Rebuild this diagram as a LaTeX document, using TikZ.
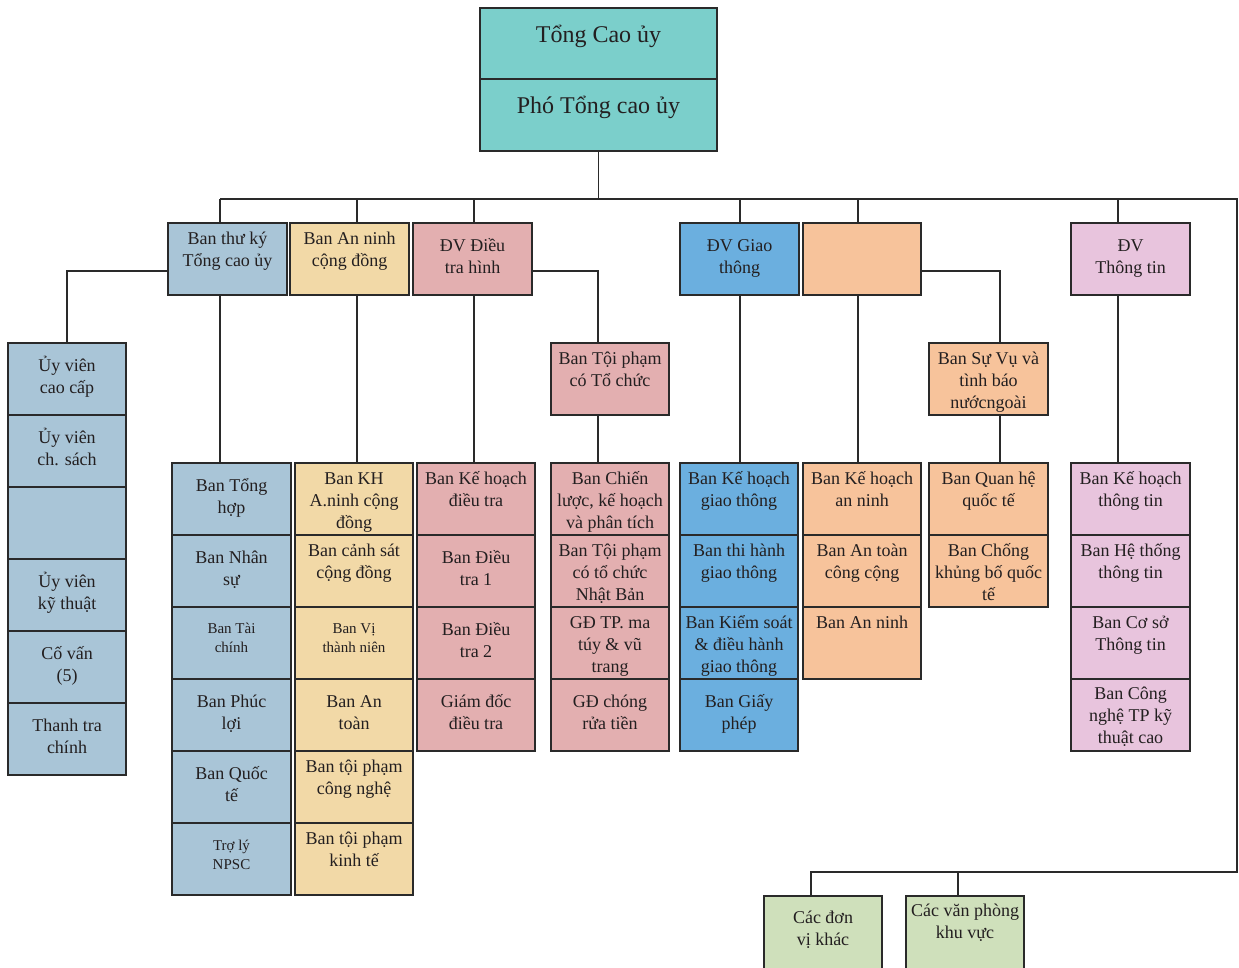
\documentclass[tikz,border=0pt]{standalone}
\usepackage{fontspec}
\setmainfont{Liberation Serif}
\usetikzlibrary{calc}

\definecolor{linec}{HTML}{2A2A2A}
\definecolor{txtc}{HTML}{231F20}
\definecolor{cteal}{HTML}{7BCFCB}
\definecolor{cgrey}{HTML}{A9C5D7}
\definecolor{ctan}{HTML}{F2D9A7}
\definecolor{cpink}{HTML}{E3AFB0}
\definecolor{cblue}{HTML}{6BAFDF}
\definecolor{corange}{HTML}{F7C39B}
\definecolor{clilac}{HTML}{E8C4DD}
\definecolor{cgreen}{HTML}{CFE0BB}

\tikzset{
  x=1pt, y=-1pt,
  box/.style={draw=linec, line width=1.8pt, rectangle, inner sep=0pt, outer sep=0pt},
  teal/.style={fill=cteal}, grey/.style={fill=cgrey}, tan/.style={fill=ctan},
  pink/.style={fill=cpink}, blue/.style={fill=cblue}, orange/.style={fill=corange},
  lilac/.style={fill=clilac}, green/.style={fill=cgreen},
  boxtext/.style={inner sep=0pt, text=txtc, font=\fontsize{18}{22}\selectfont},
  smalltext/.style={inner sep=0pt, text=txtc, font=\fontsize{15}{19}\selectfont},
  toptext/.style={inner sep=0pt, text=txtc, font=\fontsize{24}{28}\selectfont},
  conn/.style={draw=linec, line width=1.6pt},
}

% \orgbox[text style]{name}{fill}{x}{y}{width}{height}{first baseline}{lines}
\newcommand{\orgbox}[9][boxtext]{%
  \node[box,#3,minimum width=#6pt,minimum height=#7pt,anchor=north west] (#2) at (#4,#5) {};
  \node[#1,anchor=base] (#2-t) at ($(#2.north)+(0,#8)$)
    {\begin{tabular}[t]{@{}c@{}}#9\end{tabular}};}

\begin{document}
\begin{tikzpicture}
\useasboundingbox (0,0) rectangle (1239,967);

% head of the organisation
\orgbox[toptext]{tong}{teal}{480}{8}{237}{71}{34}{Tổng Cao ủy}
\orgbox[toptext]{pho}{teal}{480}{79}{237}{72}{34}{Phó Tổng cao ủy}

% second level
\orgbox{sec}{grey}{168}{223}{119}{72}{21}{Ban thư ký\\Tổng cao ủy}
\orgbox{anc}{tan}{290}{223}{119}{72}{21}{Ban An ninh\\cộng đồng}
\orgbox{dvdt}{pink}{413}{223}{119}{72}{28}{ĐV Điều\\tra hình}
\orgbox{dvgt}{blue}{680}{223}{119}{72}{28}{ĐV Giao\\thông}
\orgbox{dvan}{orange}{803}{223}{118}{72}{28}{}
\orgbox{dvtt}{lilac}{1071}{223}{119}{72}{28}{ĐV\\Thông tin}

% advisers column
\orgbox{u1}{grey}{8}{343}{118}{72}{28}{Ủy viên\\cao cấp}
\orgbox{u2}{grey}{8}{415}{118}{72}{28}{Ủy viên\\ch. sách}
\orgbox{u3}{grey}{8}{487}{118}{72}{28}{}
\orgbox{u4}{grey}{8}{559}{118}{72}{28}{Ủy viên\\kỹ thuật}
\orgbox{u5}{grey}{8}{631}{118}{72}{28}{Cố vấn\\(5)}
\orgbox{u6}{grey}{8}{703}{118}{72}{28}{Thanh tra\\chính}

% secretariat departments
\orgbox{a1}{grey}{172}{463}{119}{72}{28}{Ban Tổng\\hợp}
\orgbox{a2}{grey}{172}{535}{119}{72}{28}{Ban Nhân\\sự}
\orgbox[smalltext]{a3}{grey}{172}{607}{119}{72}{26}{Ban Tài\\chính}
\orgbox{a4}{grey}{172}{679}{119}{72}{28}{Ban Phúc\\lợi}
\orgbox{a5}{grey}{172}{751}{119}{72}{28}{Ban Quốc\\tế}
\orgbox[smalltext]{a6}{grey}{172}{823}{119}{72}{27}{Trợ lý\\NPSC}

% community security departments
\orgbox{b1}{tan}{295}{463}{118}{72}{21}{Ban KH\\A.ninh cộng\\đồng}
\orgbox{b2}{tan}{295}{535}{118}{72}{21}{Ban cảnh sát\\cộng đồng}
\orgbox[smalltext]{b3}{tan}{295}{607}{118}{72}{26}{Ban Vị\\thành niên}
\orgbox{b4}{tan}{295}{679}{118}{72}{28}{Ban An\\toàn}
\orgbox{b5}{tan}{295}{751}{118}{72}{21}{Ban tội phạm\\công nghệ}
\orgbox{b6}{tan}{295}{823}{118}{72}{21}{Ban tội phạm\\kinh tế}

% criminal investigation departments
\orgbox{c1}{pink}{417}{463}{118}{72}{21}{Ban Kế hoạch\\điều tra}
\orgbox{c2}{pink}{417}{535}{118}{72}{28}{Ban Điều\\tra 1}
\orgbox{c3}{pink}{417}{607}{118}{72}{28}{Ban Điều\\tra 2}
\orgbox{c4}{pink}{417}{679}{118}{72}{28}{Giám đốc\\điều tra}

\orgbox{toc}{pink}{551}{343}{118}{72}{21}{Ban Tội phạm\\có Tổ chức}
\orgbox{d1}{pink}{551}{463}{118}{72}{21}{Ban Chiến\\lược, kế hoạch\\và phân tích}
\orgbox{d2}{pink}{551}{535}{118}{72}{21}{Ban Tội phạm\\có tổ chức\\Nhật Bản}
\orgbox{d3}{pink}{551}{607}{118}{72}{21}{GĐ TP. ma\\túy \& vũ\\trang}
\orgbox{d4}{pink}{551}{679}{118}{72}{28}{GĐ chóng\\rửa tiền}

% traffic departments
\orgbox{e1}{blue}{680}{463}{118}{72}{21}{Ban Kế hoạch\\giao thông}
\orgbox{e2}{blue}{680}{535}{118}{72}{21}{Ban thi hành\\giao thông}
\orgbox{e3}{blue}{680}{607}{118}{72}{21}{Ban Kiểm soát\\\& điều hành\\giao thông}
\orgbox{e4}{blue}{680}{679}{118}{72}{28}{Ban Giấy\\phép}

% security departments
\orgbox{f1}{orange}{803}{463}{118}{72}{21}{Ban Kế hoạch\\an ninh}
\orgbox{f2}{orange}{803}{535}{118}{72}{21}{Ban An toàn\\công cộng}
\orgbox{f3}{orange}{803}{607}{118}{72}{21}{Ban An ninh}

\orgbox{suvu}{orange}{929}{343}{119}{72}{21}{Ban Sự Vụ và\\tình báo\\nướcngoài}
\orgbox{g1}{orange}{929}{463}{119}{72}{21}{Ban Quan hệ\\quốc tế}
\orgbox{g2}{orange}{929}{535}{119}{72}{21}{Ban Chống\\khủng bố quốc\\tế}

% information departments
\orgbox{h1}{lilac}{1071}{463}{119}{72}{21}{Ban Kế hoạch\\thông tin}
\orgbox{h2}{lilac}{1071}{535}{119}{72}{21}{Ban Hệ thống\\thông tin}
\orgbox{h3}{lilac}{1071}{607}{119}{72}{21}{Ban Cơ sở\\Thông tin}
\orgbox{h4}{lilac}{1071}{679}{119}{72}{20}{Ban Công\\nghệ TP kỹ\\thuật cao}

% other units
\orgbox{k1}{green}{764}{896}{118}{82}{27}{Các đơn\\vị khác}
\orgbox{k2}{green}{906}{896}{118}{82}{20}{Các văn phòng\\khu vực}

% connector lines
\coordinate (busL) at (220,199);
\coordinate (busR) at (1237,199);
\coordinate (lowR) at (1237,872);
\coordinate (lowL) at (811,872);
\coordinate (lowM) at (958,872);
\coordinate (vA) at (220,0);
\coordinate (vB) at (357,0);
\coordinate (vC) at (474,0);
\coordinate (vT) at (598,0);
\coordinate (vG) at (740,0);
\coordinate (vO) at (858,0);
\coordinate (vS) at (1000,0);
\coordinate (vI) at (1118,0);

\draw[conn] (pho.south) -- (pho.south |- busL);
\draw[conn] (busL) -- (busR) -- (lowR) -- (lowL) -- (lowL |- k1.north);
\draw[conn] (lowM) -- (lowM |- k2.north);

\foreach \v/\top/\sub in {vA/sec/a1, vB/anc/b1, vC/dvdt/c1, vG/dvgt/e1, vO/dvan/f1, vI/dvtt/h1}{
  \draw[conn] (\v |- busL) -- (\v |- \top.north);
  \draw[conn] (\v |- \top.south) -- (\v |- \sub.north);
}

\draw[conn] ([yshift=-12pt]sec.west) -| (u1.north);
\draw[conn] ([yshift=-12pt]dvdt.east) -| (vT |- toc.north);
\draw[conn] (vT |- toc.south) -- (vT |- d1.north);
\draw[conn] ([yshift=-12pt]dvan.east) -| (vS |- suvu.north);
\draw[conn] (vS |- suvu.south) -- (vS |- g1.north);

\end{tikzpicture}
\end{document}
